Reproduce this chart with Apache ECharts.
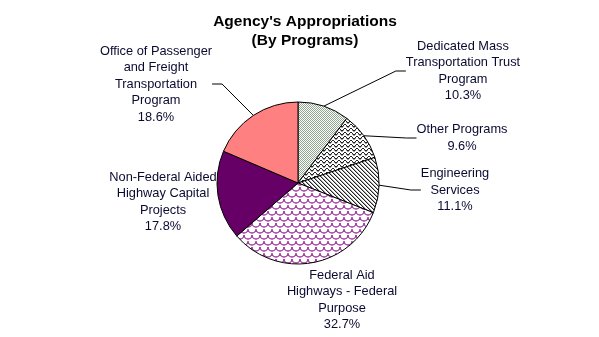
<!DOCTYPE html>
<html><head><meta charset="utf-8">
<script src="https://cdn.jsdelivr.net/npm/echarts@6/dist/echarts.min.js"></script>
<style>html,body{margin:0;padding:0;background:#fff}#c{width:599px;height:337px}</style>
</head><body><div id="c"></div>
<script>
const categories = [
  "Dedicated Mass\nTransportation Trust\nProgram",
  "Other Programs",
  "Engineering\nServices",
  "Federal Aid\nHighways - Federal\nPurpose",
  "Non-Federal Aided\nHighway Capital\nProjects",
  "Office of Passenger\nand Freight\nTransportation\nProgram"
];
const values = [10.3, 9.6, 11.1, 32.7, 17.8, 18.6];
const showLine = [true, true, true, false, false, true];

function pat(w, h, draw) {
  const c = document.createElement('canvas');
  c.width = w; c.height = h;
  const ctx = c.getContext('2d');
  ctx.fillStyle = '#fff'; ctx.fillRect(0, 0, w, h);
  draw(ctx);
  return { image: c, repeat: 'repeat' };
}
const px = (ctx, col, pts) => { ctx.fillStyle = col; pts.forEach(p => ctx.fillRect(p[0], p[1], 1, 1)); };

const checker = pat(2, 2, ctx => px(ctx, '#8fa68f', [[0,0],[1,1]]));
const zigzag = pat(6, 4, ctx => { px(ctx, '#222', [[0,2],[1,1],[2,0],[3,0],[4,1],[5,2]]); px(ctx, '#999', [[0,3],[5,3],[1,2],[4,2]]); });
const hatch = pat(4, 4, ctx => { px(ctx, '#222', [[0,0],[1,1],[2,2],[3,3]]); px(ctx, '#aaa', [[1,0],[2,1],[3,2],[0,3]]); });
const scales = pat(8, 12, ctx => {
  ctx.strokeStyle = '#993399'; ctx.lineWidth = 1.3;
  [[4,1],[0,7],[8,7],[4,13],[0,-5],[8,-5]].forEach(c => { ctx.beginPath(); ctx.arc(c[0], c[1], 4, 0, Math.PI); ctx.stroke(); });
});
const fills = [checker, zigzag, hatch, scales, '#660066', '#ff8080'];

const labelPos = [[463, 71], [462, 138], [455, 190], [342, 300], [163, 202], [156, 84]];

const chart = echarts.init(document.getElementById('c'), null, { renderer: 'canvas' });
chart.setOption({
  backgroundColor: '#fff',
  animation: false,
  title: {
    text: "Agency's Appropriations\n(By Programs)",
    left: 300, top: 7, textAlign: 'center',
    textStyle: { fontFamily: 'Liberation Sans, Arial', fontSize: 15.5, fontWeight: 'bold', color: '#000', lineHeight: 19 }
  },
  series: [{
    type: 'pie',
    center: [298, 183],
    radius: 81,
    startAngle: 90,
    clockwise: true,
    avoidLabelOverlap: false,
    itemStyle: { borderColor: '#000', borderWidth: 1 },
    label: {
      show: true,
      position: 'outside',
      formatter: p => p.name + '\n' + p.value.toFixed(1) + '%',
      fontFamily: 'Liberation Sans, Arial',
      fontSize: 12.8,
      lineHeight: 16.5,
      color: '#0a0a30',
      align: 'center'
    },
    labelLine: { show: true, length: 10, length2: 10, lineStyle: { color: '#000', width: 1 } },
    labelLayout: p => ({ x: labelPos[p.dataIndex][0], y: labelPos[p.dataIndex][1], align: 'center', verticalAlign: 'middle' }),
    data: categories.map((n, i) => ({
      name: n, value: values[i],
      itemStyle: { color: fills[i] },
      labelLine: { show: showLine[i] }
    }))
  }]
});
</script></body></html>
